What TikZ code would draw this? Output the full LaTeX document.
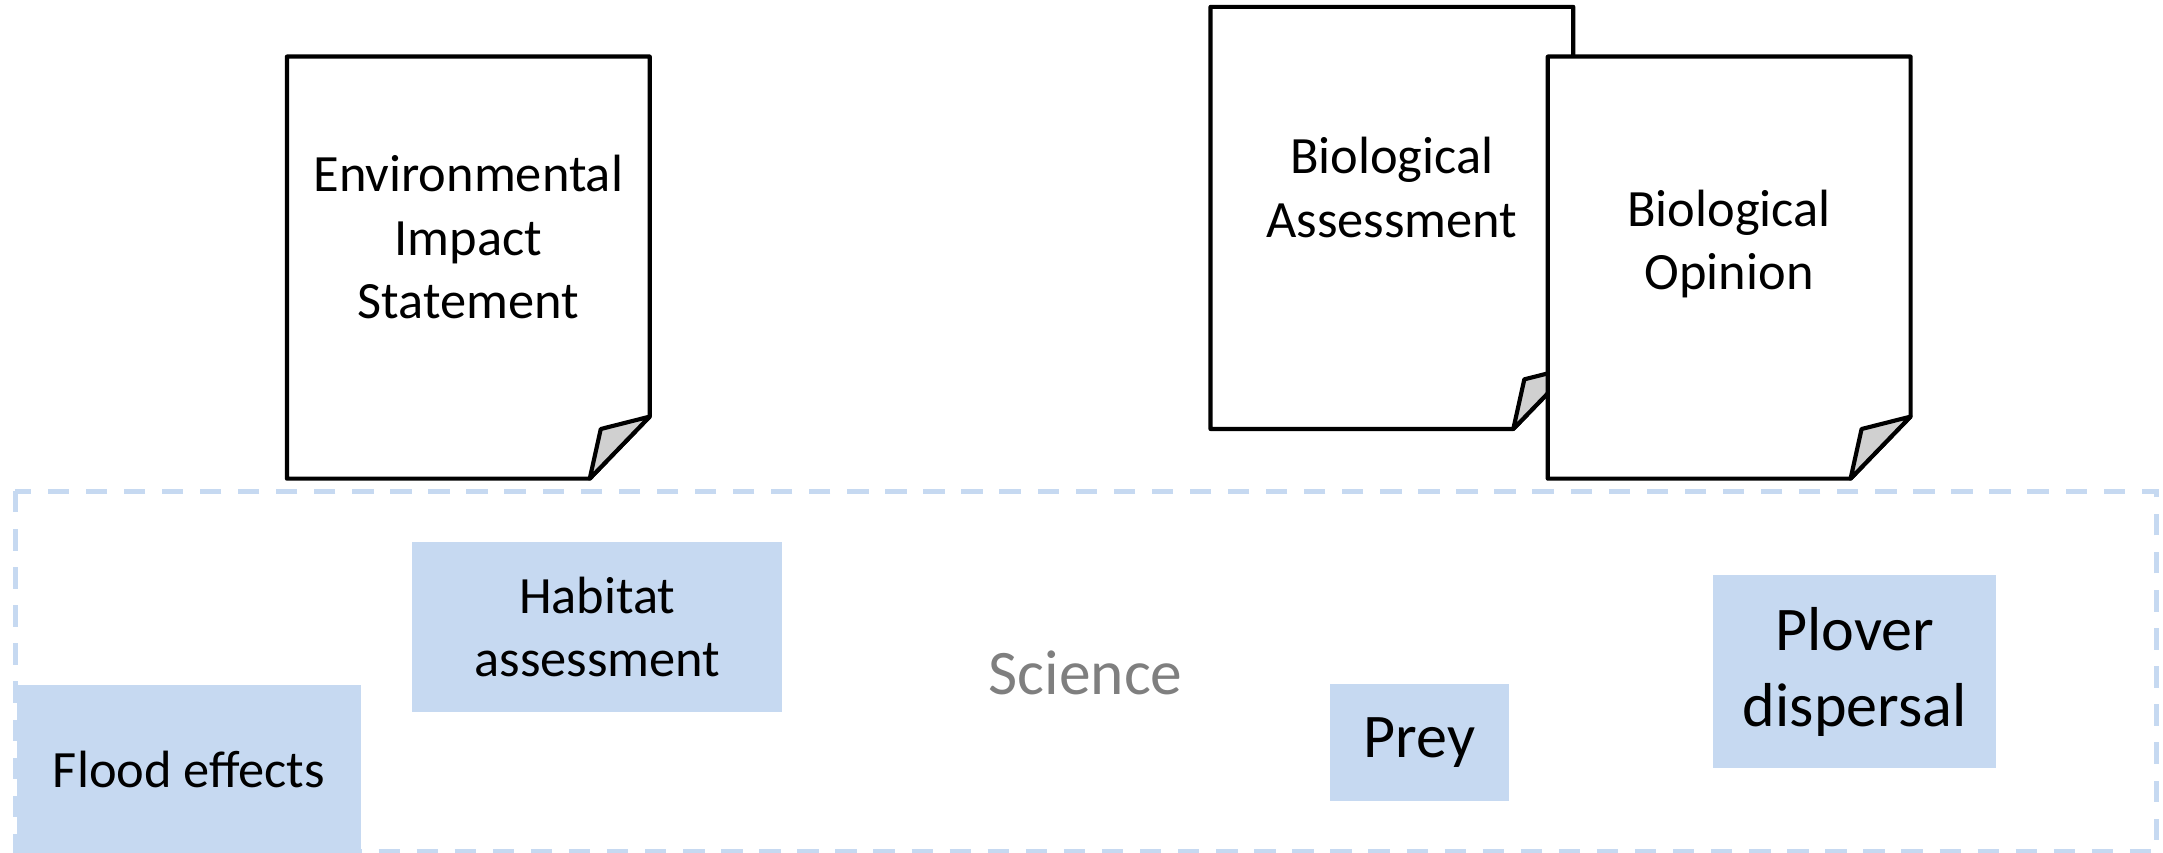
\documentclass[tikz,border=0pt]{standalone}
\usepackage{fontspec}
\setmainfont{Carlito}
\definecolor{paleblue}{HTML}{C6D9F1}
\definecolor{foldgray}{HTML}{D0D0D0}
\definecolor{labelgray}{HTML}{7F7F7F}
\tikzset{
  % a sheet of paper with a folded lower-right corner, origin at its top-left
  docpage/.pic={
    \draw[line width=3pt, line join=round, fill=white]
      (0,0) -- (263,0) -- (263,261) -- (219.5,306) -- (0,306) -- cycle;
    \draw[line width=3pt, line join=round, fill=foldgray]
      (263,261) -- (227.5,270) -- (219.5,306) -- cycle;
  },
  doctext/.style={align=center, inner sep=0pt, font=\fontsize{38}{46}\selectfont},
  topicbox/.style={fill=paleblue, inner sep=0pt, align=center,
    font=\fontsize{38}{46}\selectfont},
  bigtopic/.style={topicbox, font=\fontsize{45}{55}\selectfont},
  sciframe/.style={draw=paleblue, line width=3.6pt, dash pattern=on 15.5pt off 12.1pt},
}
\begin{document}
\begin{tikzpicture}[x=1pt,y=-1pt]
\useasboundingbox (0,0) rectangle (1568,618);

% documents
\pic (eisdoc) at (208,41) {docpage};
\pic (badoc) at (877.5,5) {docpage};
\pic (bodoc) at (1122,41) {docpage};

\node[doctext] (eis) at (339.5,172) {Environmental\\Impact\\Statement};
\node[doctext] (ba) at (1009,136) {Biological\\Assessment};
\node[doctext] (bo) at (1253.5,177) {Biological\\Opinion};

% science area
\draw[sciframe] (11,356) rectangle (1563.5,617);
\node[font=\fontsize{46}{55}\selectfont, text=labelgray, inner sep=0pt] (science) at (787,488) {Science};

\node[topicbox, minimum width=250pt, minimum height=122pt] (flood) at (137,557.5) {Flood effects};
\node[topicbox, minimum width=268pt, minimum height=123pt] (habitat) at (433,454.5) {Habitat\\assessment};
\node[bigtopic, minimum width=130pt, minimum height=85pt] (prey) at (1029,538.5) {Prey};
\node[bigtopic, minimum width=205pt, minimum height=140pt] (plover) at (1344.5,487) {Plover\\dispersal};
\end{tikzpicture}
\end{document}
